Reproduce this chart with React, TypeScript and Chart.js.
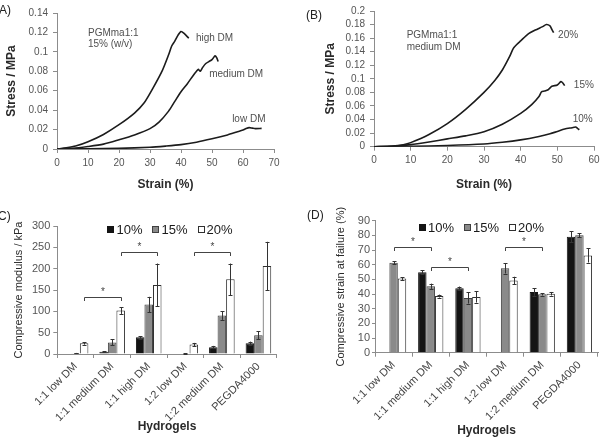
import React, { useEffect, useRef } from 'react';
import { Chart, registerables } from 'chart.js';

Chart.register(...registerables);

const FONT = '"Liberation Sans", Arial, Helvetica, sans-serif';
const TICK_COLOR = '#555555';
const AXIS_COLOR = '#8c8c8c';
const LINE_COLOR = '#1c1c1c';

// ---------- Panel A: PGMma1:1 15% (w/v), stress vs strain ----------
const aHighX = [0, 3, 6, 10, 15, 20, 25, 28, 31, 34, 36, 37, 38, 39, 40, 41, 42.5];
const aHighY = [0, 0.0012, 0.003, 0.0075, 0.015, 0.025, 0.037, 0.047, 0.063, 0.081, 0.097, 0.106, 0.111, 0.117, 0.121, 0.119, 0.114];
const aMedX = [0, 5, 10, 15, 20, 25, 30, 33, 36, 38, 40, 42, 44, 45, 45.6, 46.2, 47, 48, 49, 50, 51, 51.5, 52];
const aMedY = [0, 0.0006, 0.0025, 0.005, 0.0095, 0.0145, 0.021, 0.028, 0.039, 0.049, 0.059, 0.067, 0.076, 0.08, 0.082, 0.08, 0.084, 0.088, 0.09, 0.092, 0.096, 0.094, 0.09];
const aLowX = [0, 10, 20, 30, 35, 40, 45, 50, 55, 58, 60, 61, 62, 63, 64, 66];
const aLowY = [0, 0.0002, 0.0006, 0.0018, 0.003, 0.0045, 0.007, 0.0105, 0.0145, 0.0175, 0.0195, 0.021, 0.022, 0.0215, 0.021, 0.0212];
const aNoteText = ['PGMma1:1', '15% (w/v)', 'high DM', 'medium DM', 'low DM'];
const aNoteX = [10, 10, 44.8, 49.1, 56.5];
const aNoteY = [0.1196, 0.108, 0.114, 0.077, 0.031];

// ---------- Panel B: PGMma1:1 medium DM, stress vs strain ----------
const b20X = [0, 5, 8, 10, 15, 20, 25, 30, 33, 35, 37, 38, 39, 40, 42, 44, 46, 47, 48, 48.5, 49];
const b20Y = [0, 0.001, 0.003, 0.006, 0.018, 0.034, 0.055, 0.08, 0.098, 0.113, 0.133, 0.145, 0.151, 0.156, 0.166, 0.172, 0.177, 0.18, 0.178, 0.173, 0.168];
const b15X = [0, 5, 10, 15, 20, 25, 30, 35, 40, 43, 45, 45.7, 46.5, 47.5, 48.5, 50, 51, 51.5, 52];
const b15Y = [0, 0.0005, 0.003, 0.007, 0.0115, 0.016, 0.022, 0.033, 0.049, 0.062, 0.074, 0.081, 0.082, 0.084, 0.089, 0.091, 0.096, 0.094, 0.09];
const b10X = [0, 10, 20, 30, 35, 40, 45, 48, 50, 52, 54, 55, 55.5, 56];
const b10Y = [0, 0.0005, 0.0018, 0.004, 0.0065, 0.01, 0.015, 0.019, 0.0225, 0.026, 0.028, 0.029, 0.027, 0.025];
const bNoteText = ['PGMma1:1', 'medium DM', '20%', '15%', '10%'];
const bNoteX = [8.9, 8.9, 50.2, 54.5, 54.2];
const bNoteY = [0.164, 0.146, 0.164, 0.091, 0.0406];

// ---------- Panels C & D: bar charts ----------
const hydrogels = ['1:1 low DM', '1:1 medium DM', '1:1 high DM', '1:2 low DM', '1:2 medium DM', 'PEGDA4000'];
const seriesLabels = ['10%', '15%', '20%'];

const modulus10 = [null, 5.5, 39, null, 16, 25];
const modulus15 = [2, 27, 116, 1, 90, 44];
const modulus20 = [25, 102, 162, 22, 175, 206];
const modulusErr10 = [0, 1.5, 3, 0, 3, 4];
const modulusErr15 = [0.5, 7, 18, 0.5, 10, 9];
const modulusErr20 = [3, 8, 50, 4, 37, 57];
const modulusBracketFrom = [0, 1, 3];
const modulusBracketTo = [1, 2, 4];
const modulusBracketLevel = [133, 240, 240];

const strain10 = [null, 54.8, 43.9, null, 41.4, 79];
const strain15 = [61.3, 45.3, 37.3, 57.5, 39.8, 80.1];
const strain20 = [50.6, 38.6, 38, 49.3, 40.2, 66.3];
const strainErr10 = [0, 1.3, 1.2, 0, 2.6, 3.8];
const strainErr15 = [1, 1.8, 3.8, 3.5, 0.8, 1.5];
const strainErr20 = [1, 1, 3.8, 2.5, 1.2, 4.8];
const strainBracketFrom = [0, 1, 3];
const strainBracketTo = [1, 2, 4];
const strainBracketLevel = [72.3, 58.6, 72.3];

// ---------- helpers ----------
const pts = (xs: number[], ys: number[]) => xs.map((x, i) => ({ x, y: ys[i] }));

const lineDataset = (xs: number[], ys: number[]) => ({
  data: pts(xs, ys),
  borderColor: LINE_COLOR,
  borderWidth: 1.6,
  pointRadius: 0,
  tension: 0.25,
  fill: false,
});

const notesPlugin = (texts: string[], xs: number[], ys: number[]) => ({
  id: 'notes',
  afterDatasetsDraw(chart: any) {
    const { ctx, scales } = chart;
    ctx.save();
    ctx.font = `10px ${FONT}`;
    ctx.fillStyle = '#505050';
    ctx.textAlign = 'left';
    ctx.textBaseline = 'middle';
    texts.forEach((t, i) => {
      ctx.fillText(t, scales.x.getPixelForValue(xs[i]), scales.y.getPixelForValue(ys[i]));
    });
    ctx.restore();
  },
});

const errorBarPlugin = (errs: number[][]) => ({
  id: 'errorBars',
  afterDatasetsDraw(chart: any) {
    const { ctx } = chart;
    const yScale = chart.scales.y;
    ctx.save();
    ctx.strokeStyle = '#333';
    ctx.lineWidth = 1;
    chart.data.datasets.forEach((ds: any, di: number) => {
      const meta = chart.getDatasetMeta(di);
      ds.data.forEach((v: number | null, i: number) => {
        if (v == null) return;
        const e = errs[di][i];
        if (!e) return;
        const x = Math.round(meta.data[i].x) + 0.5;
        const yt = yScale.getPixelForValue(v + e);
        const yb = yScale.getPixelForValue(Math.max(0, v - e));
        ctx.beginPath();
        ctx.moveTo(x, yt);
        ctx.lineTo(x, yb);
        ctx.moveTo(x - 2, Math.round(yt) + 0.5);
        ctx.lineTo(x + 2, Math.round(yt) + 0.5);
        ctx.moveTo(x - 2, Math.round(yb) + 0.5);
        ctx.lineTo(x + 2, Math.round(yb) + 0.5);
        ctx.stroke();
      });
    });
    ctx.restore();
  },
});

const bracketPlugin = (from: number[], to: number[], level: number[], series: number) => ({
  id: 'brackets',
  afterDatasetsDraw(chart: any) {
    const { ctx } = chart;
    const meta = chart.getDatasetMeta(series);
    const yScale = chart.scales.y;
    ctx.save();
    ctx.strokeStyle = '#444';
    ctx.fillStyle = '#444';
    ctx.lineWidth = 1;
    ctx.font = `10px ${FONT}`;
    ctx.textAlign = 'center';
    ctx.textBaseline = 'middle';
    from.forEach((f, i) => {
      const x1 = Math.round(meta.data[f].x) + 0.5;
      const x2 = Math.round(meta.data[to[i]].x) + 0.5;
      const py = Math.round(yScale.getPixelForValue(level[i])) + 0.5;
      ctx.beginPath();
      ctx.moveTo(x1, py + 3.5);
      ctx.lineTo(x1, py);
      ctx.lineTo(x2, py);
      ctx.lineTo(x2, py + 3.5);
      ctx.stroke();
      ctx.fillText('*', (x1 + x2) / 2, py - 5);
    });
    ctx.restore();
  },
});

const legendPlugin = (dy: number, dx: number, fontSize: number) => ({
  id: 'inlineLegend',
  afterDraw(chart: any) {
    const { ctx, chartArea } = chart;
    ctx.save();
    ctx.font = `${fontSize}px ${FONT}`;
    const box = 7, gap = 2, sep = 10;
    const items = chart.data.datasets.map((ds: any) => ({
      label: ds.label,
      fill: ds.backgroundColor,
      stroke: ds.borderColor,
      w: ctx.measureText(ds.label).width,
    }));
    const total = items.reduce((s: number, it: any) => s + box + gap + it.w, 0) + sep * (items.length - 1);
    let x = (chartArea.left + chartArea.right) / 2 - total / 2 + dx;
    const y = chartArea.top + dy;
    items.forEach((it: any) => {
      const bx = Math.round(x);
      const by = Math.round(y - box / 2);
      ctx.fillStyle = it.fill;
      ctx.fillRect(bx, by, box, box);
      ctx.strokeStyle = it.stroke;
      ctx.lineWidth = 1;
      ctx.strokeRect(bx + 0.5, by + 0.5, box - 1, box - 1);
      x += box + gap;
      ctx.fillStyle = '#1a1a1a';
      ctx.textAlign = 'left';
      ctx.textBaseline = 'middle';
      ctx.fillText(it.label, x, y + 1);
      x += it.w + sep;
    });
    ctx.restore();
  },
});

const gridOpts = (tickLength: number) => ({
  drawOnChartArea: false,
  drawTicks: true,
  tickLength,
  color: AXIS_COLOR,
});

const lineConfig = (
  datasets: any[],
  xMax: number,
  yMax: number,
  pad: { left: number; top: number; right: number },
  yWidth: number,
  xHeight: number,
  yTitlePad: number,
  notes: any,
): any => ({
  type: 'line',
  data: { datasets },
  options: {
    animation: false,
    responsive: false,
    devicePixelRatio: 1,
    layout: { padding: { left: pad.left, top: pad.top, right: pad.right, bottom: 0 } },
    plugins: { legend: { display: false }, tooltip: { enabled: false } },
    scales: {
      x: {
        type: 'linear',
        min: 0,
        max: xMax,
        ticks: { stepSize: 10, autoSkip: false, color: TICK_COLOR, font: { family: FONT, size: 10 }, padding: 4 },
        grid: gridOpts(4),
        border: { color: AXIS_COLOR },
        title: {
          display: true,
          text: 'Strain (%)',
          color: '#2a2a2a',
          font: { family: FONT, size: 12, weight: 'bold' },
          padding: { top: 0, bottom: 18 },
        },
        afterFit: (s: any) => { s.height = xHeight; },
      },
      y: {
        type: 'linear',
        min: 0,
        max: yMax,
        ticks: {
          stepSize: 0.02,
          autoSkip: false,
          color: TICK_COLOR,
          font: { family: FONT, size: 10 },
          padding: 5,
          callback: (v: number) => String(Math.round(v * 1000) / 1000),
        },
        grid: gridOpts(4),
        border: { color: AXIS_COLOR },
        title: {
          display: true,
          text: 'Stress / MPa',
          color: '#2a2a2a',
          font: { family: FONT, size: 12, weight: 'bold' },
          padding: { top: yTitlePad, bottom: 0 },
        },
        afterFit: (s: any) => { s.width = yWidth; },
      },
    },
  },
  plugins: [notes],
});

const barDatasets = (d10: any[], d15: any[], d20: any[]) => [
  { label: seriesLabels[0], data: d10, backgroundColor: '#141414', borderColor: '#141414', borderWidth: 1 },
  { label: seriesLabels[1], data: d15, backgroundColor: '#8a8a8a', borderColor: '#404040', borderWidth: 1 },
  { label: seriesLabels[2], data: d20, backgroundColor: '#ffffff', borderColor: '#303030', borderWidth: 1 },
];

const barConfig = (
  datasets: any[],
  yMax: number,
  step: number,
  yTitle: string,
  pad: { top: number; right: number },
  yWidth: number,
  xHeight: number,
  yTitlePad: number,
  xTitleBottom: number,
  catPct: number,
  tickLen: number,
  tickPad: number,
  plugins: any[],
): any => ({
  type: 'bar',
  data: { labels: hydrogels, datasets },
  options: {
    animation: false,
    responsive: false,
    devicePixelRatio: 1,
    layout: { padding: { left: 0, top: pad.top, right: pad.right, bottom: 0 } },
    datasets: { bar: { categoryPercentage: catPct, barPercentage: 1 } },
    plugins: { legend: { display: false }, tooltip: { enabled: false } },
    scales: {
      x: {
        type: 'category',
        ticks: {
          autoSkip: false,
          minRotation: 45,
          maxRotation: 45,
          color: '#444',
          font: { family: FONT, size: 11 },
          padding: 2,
        },
        grid: { ...gridOpts(4), offset: true },
        border: { color: AXIS_COLOR },
        title: {
          display: true,
          text: 'Hydrogels',
          color: '#2a2a2a',
          font: { family: FONT, size: 12, weight: 'bold' },
          padding: { top: 0, bottom: xTitleBottom },
        },
        afterFit: (s: any) => { s.height = xHeight; },
      },
      y: {
        type: 'linear',
        min: 0,
        max: yMax,
        ticks: {
          stepSize: step,
          autoSkip: false,
          color: TICK_COLOR,
          font: { family: FONT, size: 11 },
          padding: tickPad,
        },
        grid: gridOpts(tickLen),
        border: { color: AXIS_COLOR },
        title: {
          display: true,
          text: yTitle,
          color: '#2a2a2a',
          font: { family: FONT, size: 11 },
          padding: { top: yTitlePad, bottom: 0 },
        },
        afterFit: (s: any) => { s.width = yWidth; },
      },
    },
  },
  plugins,
});

const labelStyle = (left: number, top: number): React.CSSProperties => ({
  position: 'absolute',
  left,
  top,
  font: `12px ${FONT}`,
  lineHeight: '14px',
  color: '#222',
  whiteSpace: 'nowrap',
});

export default function App() {
  const refA = useRef<HTMLCanvasElement>(null);
  const refB = useRef<HTMLCanvasElement>(null);
  const refC = useRef<HTMLCanvasElement>(null);
  const refD = useRef<HTMLCanvasElement>(null);

  useEffect(() => {
    const charts: Chart[] = [];
    charts.push(
      new Chart(
        refA.current!,
        lineConfig(
          [lineDataset(aHighX, aHighY), lineDataset(aMedX, aMedY), lineDataset(aLowX, aLowY)],
          70, 0.14, { left: 0, top: 13, right: 26 }, 57, 61, 4.8,
          notesPlugin(aNoteText, aNoteX, aNoteY),
        ),
      ),
    );
    charts.push(
      new Chart(
        refB.current!,
        lineConfig(
          [lineDataset(b20X, b20Y), lineDataset(b15X, b15Y), lineDataset(b10X, b10Y)],
          60, 0.2, { left: 0, top: 6.7, right: 10 }, 74, 63.3, 23.3,
          notesPlugin(bNoteText, bNoteX, bNoteY),
        ),
      ),
    );
    charts.push(
      new Chart(
        refC.current!,
        barConfig(
          barDatasets(modulus10, modulus15, modulus20),
          300, 50, 'Compressive modulus / kPa',
          { top: 16, right: 23.3 }, 57.3, 89, 12.4, 8.8, 0.7, 4, 3,
          [
            errorBarPlugin([modulusErr10, modulusErr15, modulusErr20]),
            bracketPlugin(modulusBracketFrom, modulusBracketTo, modulusBracketLevel, 2),
            legendPlugin(3.5, 3, 13),
          ],
        ),
      ),
    );
    charts.push(
      new Chart(
        refD.current!,
        barConfig(
          barDatasets(strain10, strain15, strain20),
          90, 10, 'Compressive strain at failure (%)',
          { top: 20.7, right: 6 }, 75, 90.3, 34.4, 4.8, 0.68, 3, 2,
          [
            errorBarPlugin([strainErr10, strainErr15, strainErr20]),
            bracketPlugin(strainBracketFrom, strainBracketTo, strainBracketLevel, 1),
            legendPlugin(7, -5, 13),
          ],
        ),
      ),
    );
    return () => charts.forEach((c) => c.destroy());
  }, []);

  return (
    <div
      style={{
        position: 'fixed',
        left: 0,
        top: 0,
        width: 604,
        height: 443,
        background: '#ffffff',
        overflow: 'hidden',
      }}
    >
      <canvas ref={refA} width={300} height={210} style={{ position: 'absolute', left: 0, top: 0, width: 300, height: 210 }} />
      <canvas ref={refB} width={304} height={210} style={{ position: 'absolute', left: 300, top: 0, width: 304, height: 210 }} />
      <canvas ref={refC} width={300} height={233} style={{ position: 'absolute', left: 0, top: 210, width: 300, height: 233 }} />
      <canvas ref={refD} width={304} height={243} style={{ position: 'absolute', left: 300, top: 200, width: 304, height: 243 }} />
      <div style={labelStyle(-1, 3)}>A)</div>
      <div style={labelStyle(306, 8)}>(B)</div>
      <div style={labelStyle(-2, 209)}>C)</div>
      <div style={labelStyle(307, 208)}>(D)</div>
    </div>
  );
}
